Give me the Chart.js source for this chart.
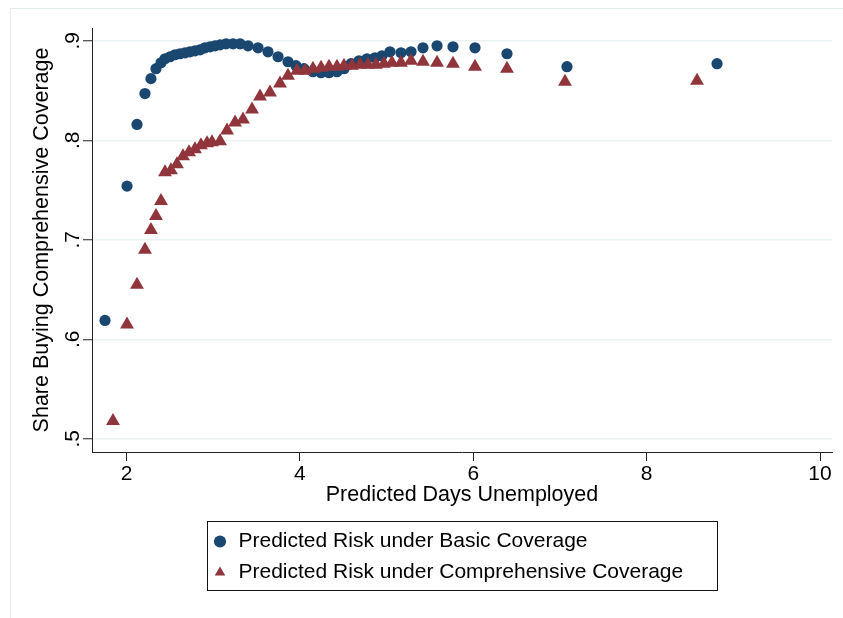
<!DOCTYPE html>
<html>
<head>
<meta charset="utf-8">
<script src="https://cdn.jsdelivr.net/npm/chart.js@4.4.1/dist/chart.umd.min.js"></script>
<style>
html,body{margin:0;padding:0;background:#ffffff;}
#wrap{width:843px;height:618px;position:relative;}
</style>
</head>
<body>
<div id="wrap"><canvas id="c" width="843" height="618"></canvas></div>
<script>
// ---- data ----
const basicX = [1.752,2.006,2.121,2.213,2.282,2.340,2.398,2.444,2.502,2.559,2.617,2.675,2.732,2.790,2.848,2.905,2.963,3.021,3.079,3.148,3.229,3.310,3.402,3.517,3.632,3.748,3.863,3.955,4.047,4.151,4.244,4.336,4.428,4.509,4.590,4.682,4.774,4.866,4.947,5.039,5.166,5.282,5.420,5.582,5.766,6.020,6.389,7.081,8.812];
const basicY = [0.619,0.754,0.816,0.847,0.862,0.872,0.878,0.882,0.884,0.886,0.887,0.888,0.889,0.890,0.891,0.893,0.894,0.895,0.896,0.897,0.897,0.897,0.895,0.893,0.889,0.884,0.879,0.875,0.872,0.869,0.868,0.868,0.869,0.872,0.877,0.880,0.882,0.883,0.885,0.889,0.888,0.889,0.893,0.895,0.894,0.893,0.887,0.874,0.877];
const compX = [1.844,2.006,2.121,2.213,2.282,2.340,2.398,2.444,2.513,2.582,2.652,2.721,2.790,2.859,2.929,2.986,3.079,3.160,3.252,3.344,3.448,3.540,3.655,3.771,3.863,3.967,4.059,4.151,4.244,4.336,4.428,4.509,4.601,4.693,4.786,4.878,4.970,5.062,5.166,5.282,5.420,5.582,5.766,6.020,6.389,7.058,8.581];
const compY = [0.518,0.615,0.655,0.690,0.710,0.724,0.739,0.768,0.770,0.776,0.784,0.788,0.791,0.795,0.797,0.798,0.799,0.810,0.818,0.821,0.831,0.844,0.848,0.857,0.865,0.870,0.870,0.872,0.873,0.874,0.874,0.875,0.875,0.876,0.876,0.876,0.877,0.878,0.878,0.880,0.879,0.878,0.877,0.874,0.872,0.859,0.860];
const seriesLabels = ['Predicted Risk under Basic Coverage','Predicted Risk under Comprehensive Coverage'];
const xTickValues = [2,4,6,8,10];
const yTickValues = [0.5,0.6,0.7,0.8,0.9];
const yTickLabels = ['.5','.6','.7','.8','.9'];
const xTitle = 'Predicted Days Unemployed';
const yTitle = 'Share Buying Comprehensive Coverage';

const NAVY = '#1a476f';
const MAROON = '#90353b';
const FONT = "'Liberation Sans', Arial, Helvetica, sans-serif";
Chart.defaults.font.family = FONT;
Chart.defaults.color = '#000';

const legendPlacer = {
  id: 'legendPlacer',
  beforeDraw(chart) {
    const ctx = chart.ctx;
    ctx.save();
    ctx.strokeStyle = '#e3eaec';
    ctx.lineWidth = 1;
    ctx.beginPath();
    ctx.moveTo(10.5, 618);
    ctx.lineTo(10.5, 8.5);
    ctx.lineTo(843, 8.5);
    ctx.stroke();
    ctx.restore();
  },
  afterLayout(chart) {
    const lg = chart.legend;
    if (!lg) return;
    lg.left = 202; lg.right = 722; lg.top = 521; lg.bottom = 593;
    lg.width = lg.right - lg.left;
  },
  afterDraw(chart) {
    const ctx = chart.ctx;
    ctx.save();
    ctx.strokeStyle = '#111';
    ctx.lineWidth = 1;
    ctx.strokeRect(207.5, 521.5, 510, 69);
    ctx.restore();
  }
};

new Chart(document.getElementById('c'), {
  type: 'scatter',
  data: {
    datasets: [
      {
        label: seriesLabels[0],
        data: basicX.map((x, i) => ({x: x, y: basicY[i]})),
        pointStyle: 'circle',
        pointRadius: 5.6,
        pointHoverRadius: 5.6,
        pointBorderWidth: 0,
        pointBackgroundColor: NAVY,
        backgroundColor: NAVY,
        borderColor: NAVY,
        order: 1
      },
      {
        label: seriesLabels[1],
        data: compX.map((x, i) => ({x: x, y: compY[i]})),
        pointStyle: 'triangle',
        pointRadius: 8,
        pointHoverRadius: 8,
        pointBorderWidth: 0,
        pointBackgroundColor: MAROON,
        backgroundColor: MAROON,
        borderColor: MAROON,
        order: 0
      }
    ]
  },
  options: {
    responsive: false,
    animation: false,
    devicePixelRatio: 1,
    events: [],
    layout: { padding: { top: 28, right: 11, left: 0, bottom: 37.6 } },
    scales: {
      x: {
        type: 'linear',
        min: 1.602,
        max: 10.138,
        afterBuildTicks: (s) => { s.ticks = xTickValues.map(v => ({value: v})); },
        afterFit: (s) => { s.height = 56.4; },
        ticks: {
          font: { size: 21 },
          color: '#000',
          padding: 1,
          maxRotation: 0,
          autoSkip: false,
          callback: (v) => String(v)
        },
        grid: { drawOnChartArea: false, drawTicks: true, tickLength: 9, tickColor: '#222', tickWidth: 1 },
        border: { display: true, color: '#222', width: 1 },
        title: { display: true, text: xTitle, font: { size: 21.5 }, color: '#000', padding: { top: 0, bottom: 0 } }
      },
      y: {
        type: 'linear',
        min: 0.4868,
        max: 0.9129,
        afterBuildTicks: (s) => { s.ticks = yTickValues.map(v => ({value: v})); },
        afterFit: (s) => { s.width = 92; },
        ticks: {
          font: { size: 21 },
          color: '#000',
          padding: 1,
          minRotation: 90,
          maxRotation: 90,
          crossAlign: 'center',
          autoSkip: false,
          callback: (v) => { const i = yTickValues.findIndex(t => Math.abs(t - v) < 1e-9); return i >= 0 ? yTickLabels[i] : ''; }
        },
        grid: { drawOnChartArea: true, color: '#eaf2f3', lineWidth: 1.5, drawTicks: true, tickLength: 9, tickColor: '#222', tickWidth: 1 },
        border: { display: true, color: '#222', width: 1 },
        title: { display: true, text: yTitle, font: { size: 21.5 }, color: '#000', padding: { top: 29, bottom: 0 } }
      }
    },
    plugins: {
      tooltip: { enabled: false },
      legend: {
        display: true,
        position: 'bottom',
        align: 'start',
        labels: {
          usePointStyle: true,
          boxWidth: 16,
          boxHeight: 8.6,
          padding: 10,
          color: '#000',
          font: { size: 21 },
          sort: (a, b) => a.datasetIndex - b.datasetIndex
        }
      }
    }
  },
  plugins: [legendPlacer]
});
</script>
</body>
</html>
